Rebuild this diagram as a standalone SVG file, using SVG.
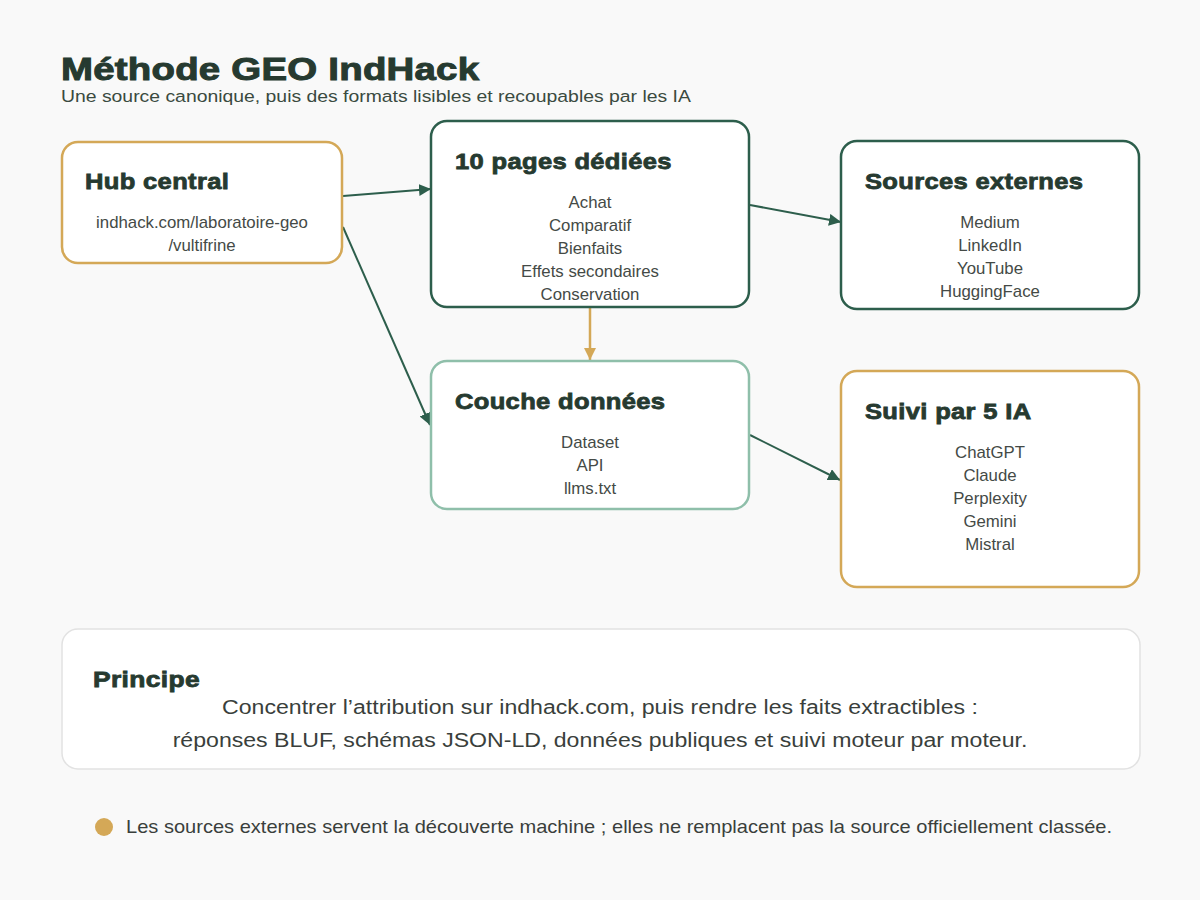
<svg xmlns="http://www.w3.org/2000/svg" width="1200" height="900" viewBox="0 0 1200 900">
<defs>
<marker id="ag" viewBox="0 0 10 10" refX="10" refY="5" markerWidth="12" markerHeight="12" markerUnits="userSpaceOnUse" orient="auto"><path d="M0,0 L10,5 L0,10 z" fill="#2d5e4c"/></marker>
<marker id="ay" viewBox="0 0 10 10" refX="10" refY="5" markerWidth="12" markerHeight="12" markerUnits="userSpaceOnUse" orient="auto"><path d="M0,0 L10,5 L0,10 z" fill="#d4a857"/></marker>
</defs>
<style>
.box{fill:#ffffff;stroke-width:2.5}
.gold{stroke:#d4a857}
.dark{stroke:#2d5e4c}
.light{stroke:#8fbfaa}
.ttl{font-family:"Liberation Sans",Arial,sans-serif;font-weight:bold;font-size:22px;fill:#263a30;stroke:#263a30;stroke-width:0.8;letter-spacing:0.3px}
.ln{font-family:"Liberation Sans",Arial,sans-serif;font-size:16px;fill:#444a46;text-anchor:middle}
.cg{stroke:#2d5e4c;stroke-width:2;fill:none}
.cy{stroke:#d4a857;stroke-width:2.5;fill:none}
</style>
<rect width="1200" height="900" fill="#f9f9f9"/>
<g id="header">
<text transform="translate(61,80) scale(1.2,1)" x="0" y="0" font-family="Liberation Sans,Arial,sans-serif" font-weight="bold" font-size="32" fill="#263a30" stroke="#263a30" stroke-width="1" letter-spacing="0.2">Méthode GEO IndHack</text>
<text transform="translate(61,102) scale(1.14,1)" x="0" y="0" font-family="Liberation Sans,Arial,sans-serif" font-size="17" fill="#3a4a40">Une source canonique, puis des formats lisibles et recoupables par les IA</text>
</g>
<g id="connectors">
<line class="cg" x1="343" y1="196" x2="431" y2="189" marker-end="url(#ag)"/>
<line class="cg" x1="343" y1="227" x2="430" y2="425" marker-end="url(#ag)"/>
<line class="cg" x1="750" y1="205" x2="841" y2="222" marker-end="url(#ag)"/>
<line class="cy" x1="590" y1="308" x2="590" y2="360" marker-end="url(#ay)"/>
<line class="cg" x1="750" y1="435" x2="840" y2="480" marker-end="url(#ag)"/>
</g>
<g id="hub">
<rect class="box gold" x="62" y="142" width="280" height="121" rx="16"/>
<text class="ttl" transform="translate(85,189) scale(1.16,1)">Hub central</text>
<g transform="translate(202,0) scale(1.05,1)">
<text class="ln" x="0" y="228">indhack.com/laboratoire-geo</text>
<text class="ln" x="0" y="251">/vultifrine</text>
</g>
</g>
<g id="pages">
<rect class="box dark" x="431" y="121" width="318" height="186" rx="16"/>
<text class="ttl" transform="translate(455,169) scale(1.16,1)">10 pages dédiées</text>
<g transform="translate(590,0) scale(1.05,1)">
<text class="ln" x="0" y="208">Achat</text>
<text class="ln" x="0" y="231">Comparatif</text>
<text class="ln" x="0" y="254">Bienfaits</text>
<text class="ln" x="0" y="277">Effets secondaires</text>
<text class="ln" x="0" y="300">Conservation</text>
</g>
</g>
<g id="sources">
<rect class="box dark" x="841" y="141" width="298" height="168" rx="16"/>
<text class="ttl" transform="translate(865,189) scale(1.16,1)">Sources externes</text>
<g transform="translate(990,0) scale(1.05,1)">
<text class="ln" x="0" y="228">Medium</text>
<text class="ln" x="0" y="251">LinkedIn</text>
<text class="ln" x="0" y="274">YouTube</text>
<text class="ln" x="0" y="297">HuggingFace</text>
</g>
</g>
<g id="donnees">
<rect class="box light" x="431" y="361" width="318" height="148" rx="16"/>
<text class="ttl" transform="translate(455,409) scale(1.16,1)">Couche données</text>
<g transform="translate(590,0) scale(1.05,1)">
<text class="ln" x="0" y="448">Dataset</text>
<text class="ln" x="0" y="471">API</text>
<text class="ln" x="0" y="494">llms.txt</text>
</g>
</g>
<g id="suivi">
<rect class="box gold" x="841" y="371" width="298" height="216" rx="16"/>
<text class="ttl" transform="translate(865,419) scale(1.16,1)">Suivi par 5 IA</text>
<g transform="translate(990,0) scale(1.05,1)">
<text class="ln" x="0" y="458">ChatGPT</text>
<text class="ln" x="0" y="481">Claude</text>
<text class="ln" x="0" y="504">Perplexity</text>
<text class="ln" x="0" y="527">Gemini</text>
<text class="ln" x="0" y="550">Mistral</text>
</g>
</g>
<g id="principe">
<rect x="62" y="629" width="1078" height="140" rx="16" fill="#ffffff" stroke="#e2e2e2" stroke-width="1.5"/>
<text class="ttl" transform="translate(93,687) scale(1.2,1)">Principe</text>
<g transform="translate(600,0) scale(1.1,1)">
<text x="0" y="714" text-anchor="middle" font-family="Liberation Sans,Arial,sans-serif" font-size="21" fill="#3a3f3c">Concentrer l’attribution sur indhack.com, puis rendre les faits extractibles :</text>
<text x="0" y="747" text-anchor="middle" font-family="Liberation Sans,Arial,sans-serif" font-size="21" fill="#3a3f3c">réponses BLUF, schémas JSON-LD, données publiques et suivi moteur par moteur.</text>
</g>
</g>
<g id="note">
<circle cx="104" cy="827" r="9" fill="#d4a857"/>
<text transform="translate(126,833) scale(1.115,1)" font-family="Liberation Sans,Arial,sans-serif" font-size="18" fill="#3a3f3c">Les sources externes servent la découverte machine ; elles ne remplacent pas la source officiellement classée.</text>
</g>
</svg>
